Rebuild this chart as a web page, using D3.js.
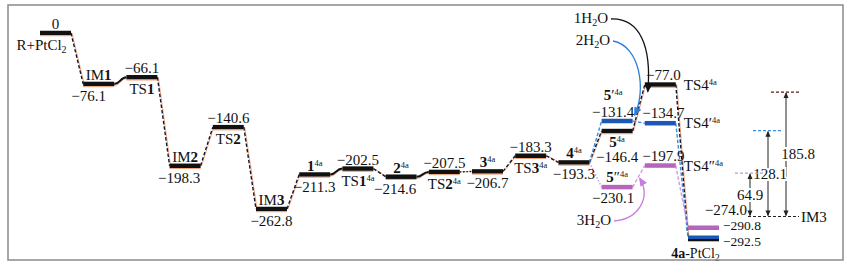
<!DOCTYPE html>
<html>
<head>
<meta charset="utf-8">
<script src="https://cdn.jsdelivr.net/npm/d3@7"></script>
<style>
  body { margin: 0; background: #fff; }
  text { font-family: "Liberation Serif", "DejaVu Serif", serif; font-size: 15px; fill: #111; }
</style>
</head>
<body>
<div id="profile"></div>
<script>
// main path, R + PtCl2 -> 4a
const mainEnergy = [0, -76.1, -66.1, -198.3, -140.6, -262.8, -211.3, -202.5, -214.6, -207.5, -206.7, -183.3, -193.3];
const mainTop = ["0", "IM*{1}", "\u221266.1", "IM*{2}", "\u2212140.6", "IM*{3}", "*{1}^{4a}", "\u2212202.5",
                 "*{2}^{4a}", "\u2212207.5", "*{3}^{4a}", "\u2212183.3", "*{4}^{4a}"];
const mainBottom = ["R+PtCl_{2}", "\u221276.1", "TS*{1}", "\u2212198.3", "TS*{2}", "\u2212262.8", "\u2212211.3",
                    "TS*{1}^{4a}", "\u2212214.6", "TS*{2}^{4a}", "\u2212206.7", "TS*{3}^{4a}", "\u2212193.3"];
const mainLink = ["dash", "curve", "dash", "dash", "dash", "dash", "curve", "dash", "curve", "dot", "dash", "dash"];

// water assisted branches from 4^4a: 1H2O, 2H2O, 3H2O
const waters = ["1H_{2}O", "2H_{2}O", "3H_{2}O"];
const interNames = ["*{5}^{4a}", "*{5}\u2032^{4a}", "*{5}\u2033^{4a}"];
const interEnergy = [-146.4, -131.4, -230.1];
const tsNames = ["TS4^{4a}", "TS4\u2032^{4a}", "TS4\u2033^{4a}"];
const tsEnergy = [-77.0, -134.7, -197.9];
const prodEnergy = [-292.5, -292.5, -290.8];

// energy spans relative to IM3
const spanBase = -274.0;
const spanValues = [185.8, 128.1, 64.9];

const W = 853, H = 266;
const barW = 31;
const barCol = ["#111", "#1d57b6", "#b565bb"];
const linkCol = ["#16162e", "#3a8de2", "#d494ea"];
const orange = "#f2a37a";

const svg = d3.select("#profile").append("svg")
  .attr("width", W).attr("height", H);

const x = d3.scaleLinear().domain([0, 15]).range([40, 688]);
const y = d3.scaleLinear().domain([0, -262.8]).range([33, 209]);

// little markup: *{bold} _{sub} ^{sup}
function rich(sel, str) {
  const parts = str.match(/\*\{[^}]*\}|_\{[^}]*\}|\^\{[^}]*\}|[^*_^]+/g);
  let shift = 0;
  parts.forEach(p => {
    let kind = "n", t = p;
    if (/^[*_^]\{/.test(p)) { kind = p[0]; t = p.slice(2, -1); }
    const want = kind === "^" ? -5 : kind === "_" ? 3 : 0;
    const ts = sel.append("tspan").text(t).attr("dy", want - shift);
    shift = want;
    if (kind === "*") ts.style("font-weight", "bold");
    if (kind === "^") ts.style("font-size", "8.5px");
    if (kind === "_") ts.style("font-size", "10px");
  });
}

function label(str, px, py, anchor) {
  const t = svg.append("text")
    .attr("x", px).attr("y", py)
    .attr("text-anchor", anchor || "middle");
  rich(t, str);
  return t;
}

const defs = svg.append("defs");
function marker(id, col, w) {
  defs.append("marker")
    .attr("id", id)
    .attr("viewBox", "0 -3 7 6")
    .attr("refX", 6).attr("refY", 0)
    .attr("markerWidth", w).attr("markerHeight", w * 0.85)
    .attr("markerUnits", "userSpaceOnUse")
    .attr("orient", "auto-start-reverse")
    .append("path").attr("d", "M0,-3L7,0L0,3Z").attr("fill", col);
}
marker("tip0", "#111", 9);
marker("tip1", "#2f7fd8", 9);
marker("tip2", "#c77ddc", 9);
marker("span", "#222", 6);

const gLinks = svg.append("g");
const gBars = svg.append("g");

function link(x1, y1, x2, y2, type, col) {
  if (type === "curve") {
    const path = d3.linkHorizontal()({ source: [x1, y1], target: [x2, y2] });
    gLinks.append("path").attr("d", path).attr("fill", "none")
      .attr("stroke", orange).attr("stroke-width", 1).attr("transform", "translate(0,1.5)");
    gLinks.append("path").attr("d", path).attr("fill", "none")
      .attr("stroke", "#111").attr("stroke-width", 2);
    return;
  }
  if (col === linkCol[0]) {
    gLinks.append("line").attr("x1", x1 + 1).attr("y1", y1).attr("x2", x2 + 1).attr("y2", y2)
      .attr("stroke", orange).attr("stroke-width", 0.9);
  }
  gLinks.append("line").attr("x1", x1).attr("y1", y1).attr("x2", x2).attr("y2", y2)
    .attr("stroke", col).attr("stroke-width", 1.4)
    .attr("stroke-dasharray", type === "dot" ? "1.5,1.8" : "3.5,2");
}

function bar(xl, yc, col, h) {
  h = h || 4.5;
  gBars.append("rect").attr("x", xl).attr("y", yc - h / 2)
    .attr("width", barW).attr("height", h).attr("fill", col);
  if (col === barCol[0]) {
    gBars.append("line").attr("x1", xl).attr("x2", xl + barW)
      .attr("y1", yc + h / 2 + 0.5).attr("y2", yc + h / 2 + 0.5)
      .attr("stroke", orange).attr("stroke-width", 1);
  }
}

// main path
mainEnergy.forEach((e, i) => {
  bar(x(i), y(e), barCol[0]);
  if (i < mainEnergy.length - 1) {
    link(x(i) + barW, y(e), x(i + 1), y(mainEnergy[i + 1]), mainLink[i], linkCol[0]);
  }
  const cx = x(i) + barW / 2;
  label(mainTop[i], cx, y(e) - 4);
  const nudge = i === 0 ? -14 : i === 1 ? -10 : i === 3 ? -6 : i === 8 ? -6 : 0;
  label(mainBottom[i], cx + nudge, y(e) + 17);
});

// product bars: the two product levels are 1.7 apart, push the lower one down so both show
const prodPos = prodEnergy.map(e => y(e));
prodPos[0] = prodPos[1] = Math.max(prodPos[0], prodPos[2] + 10);

const last = mainEnergy.length - 1;
const x4 = x(last) + barW, y4 = y(mainEnergy[last]);
const midLinks = [];
[0, 1, 2].forEach(b => {
  const yi = y(interEnergy[b]), yt = y(tsEnergy[b]);
  link(x4, y4, x(13), yi, b === 2 ? "dot" : "dash", linkCol[b]);
  link(x(13) + barW, yi, x(14), yt, "dash", linkCol[b]);
  link(x(14) + barW, yt, x(15), prodPos[b], "dash", linkCol[b]);
  midLinks.push([(x(13) + barW + x(14)) / 2, (yi + yt) / 2]);
});
[0, 1, 2].forEach(b => {
  bar(x(13), y(interEnergy[b]), barCol[b]);
  bar(x(14), y(tsEnergy[b]), barCol[b]);
});
bar(x(15), prodPos[0] + 0.8, barCol[0], 5);
bar(x(15), prodPos[1] - 0.5, barCol[1], 3.5);
bar(x(15), prodPos[2], barCol[2]);

// branch labels
const c13 = x(13) + barW / 2, c14 = x(14) + barW / 2;
label(interNames[0], c13, y(interEnergy[0]) + 16);
label("\u2212" + Math.abs(interEnergy[0]).toFixed(1), c13, y(interEnergy[0]) + 31);
label("\u2212" + Math.abs(interEnergy[1]).toFixed(1), c13 - 4, y(interEnergy[1]) - 4);
label(interNames[1], c13 - 4, y(interEnergy[1]) - 21);
label(interNames[2], c13, y(interEnergy[2]) - 5);
label("\u2212" + Math.abs(interEnergy[2]).toFixed(1), c13 - 4, y(interEnergy[2]) + 16);
tsEnergy.forEach((e, b) => {
  label("\u2212" + Math.abs(e).toFixed(1), c14 + 3, y(e) - 5);
  label(tsNames[b], x(14) + barW + 8, y(e) + 5, "start");
});
label("\u2212" + Math.abs(prodEnergy[2]).toFixed(1), x(15) + barW + 4, prodPos[2] + 2.5, "start")
  .style("font-size", "13.5px");
label("\u2212" + Math.abs(prodEnergy[1]).toFixed(1), x(15) + barW + 4, prodPos[2] + 18, "start")
  .style("font-size", "13.5px");
label("*{4a}-PtCl_{2}", x(15) + barW / 2 - 8, 258).style("font-size", "14px");

// water labels with curved arrows
const wPos = [[608, 23], [610, 45], [611, 225]];
waters.forEach((w, b) => label(w, wPos[b][0], wPos[b][1], "end"));
const tx0 = x(14) + 3, ty0 = y(tsEnergy[0]) + 7;
const tx1 = x(13) + barW + 2, ty1 = y(interEnergy[1]) - 6;
const [tx2, ty2] = midLinks[2];
const arrows = [
  `M611,19 C640,18 ${tx0 + 4},${ty0 - 45} ${tx0},${ty0}`,
  `M613,41 C640,46 ${tx1 + 12},${ty1 - 25} ${tx1},${ty1}`,
  `M614,221 C640,219 ${tx2 + 12},${ty2 + 20} ${tx2 + 1},${ty2 + 2}`
];
const arrowCol = ["#111", "#2f7fd8", "#c77ddc"];
arrows.forEach((d, b) => {
  svg.append("path").attr("d", d).attr("fill", "none")
    .attr("stroke", arrowCol[b]).attr("stroke-width", 1.3)
    .attr("marker-end", `url(#tip${b})`);
});

// energy span panel
const ax = d3.scaleLinear().domain([0, spanValues.length - 1]).range([786, 750]);
const spanCol = ["#5a1c12", "#3a8de2", "#b99ae6"];
const yb = y(spanBase);
svg.append("line").attr("x1", ax(2) - 2).attr("x2", ax(0) + 13)
  .attr("y1", yb).attr("y2", yb)
  .attr("stroke", "#222").attr("stroke-width", 1.2).attr("stroke-dasharray", "3,2");
spanValues.forEach((v, i) => {
  const yt = y(spanBase + v);
  svg.append("line").attr("x1", ax(i) - 15).attr("x2", ax(i) + 13)
    .attr("y1", yt).attr("y2", yt)
    .attr("stroke", spanCol[i]).attr("stroke-width", 1.3).attr("stroke-dasharray", "3,2");
  svg.append("line").attr("x1", ax(i)).attr("x2", ax(i))
    .attr("y1", yt + 1).attr("y2", yb - 1)
    .attr("stroke", "#222").attr("stroke-width", 1)
    .attr("marker-start", "url(#span)").attr("marker-end", "url(#span)");
  svg.append("text")
    .attr("x", ax(i) + (i === 0 ? 12 : i === 1 ? 2 : 0))
    .attr("y", (yt + yb) / 2 + 5)
    .attr("text-anchor", "middle")
    .attr("stroke", "#fff").attr("stroke-width", 4).attr("paint-order", "stroke")
    .text(v.toFixed(1));
});
label("\u2212" + Math.abs(spanBase).toFixed(1), ax(2) - 3, yb - 2, "end");
label("IM3", ax(0) + 15, yb + 5, "start");

// frame
svg.append("rect").attr("x", 8).attr("y", 5).attr("width", 835).attr("height", 255)
  .attr("fill", "none").attr("stroke", "#8a8a8a").attr("stroke-width", 1.5);
</script>
</body>
</html>
